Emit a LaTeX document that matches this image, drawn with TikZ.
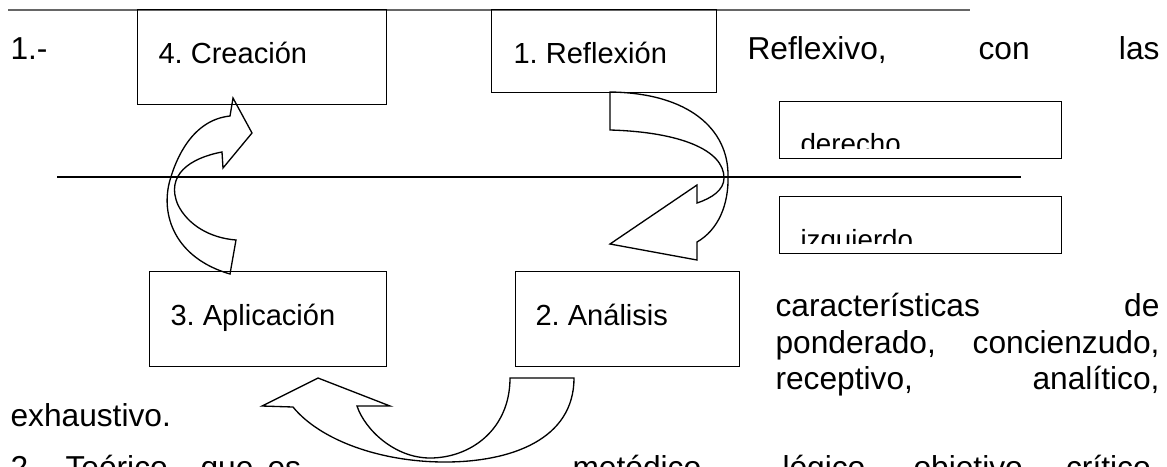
\documentclass[tikz,border=0pt]{standalone}
\usepackage{fontspec}
\setmainfont{Liberation Sans}
\frenchspacing
\newlength\unidad
\setlength\unidad{0.3785pt}
\tikzset{
    caja/.style={
           rectangle,
           draw=black,
           line width=0.5pt,
           inner sep=0pt,
           anchor=north west,
           },
    etiqueta/.style={anchor=base west, inner sep=0pt,
           font=\fontsize{11}{13}\selectfont},
    recorte/.style={anchor=base west, inner sep=0pt,
           font=\fontsize{10.5}{12}\selectfont},
    parrafo/.style={anchor=base west, inner sep=0pt,
           font=\fontsize{12}{14}\selectfont},
    derecha/.style={parrafo, anchor=base east},
    flecha/.style={draw=black, line width=0.5pt, line join=miter},
}

\begin{document}
\begin{tikzpicture}[x=\unidad, y=-\unidad]
 \useasboundingbox (0,0) rectangle (1167,466);

 % lineas del texto
 \draw[black!60, line width=0.5pt] (8,10) -- (970,10);
 \draw[line width=0.5pt] (57,177) -- (1021,177);

 % cuadros de las etapas
 \node[caja, minimum width=249\unidad, minimum height=95\unidad] (CREA) at (137,9) {};
 \node[caja, minimum width=225\unidad, minimum height=83\unidad] (REFL) at (491,9) {};
 \node[caja, minimum width=237\unidad, minimum height=95\unidad] (APLI) at (149,271) {};
 \node[caja, minimum width=224\unidad, minimum height=95\unidad] (ANAL) at (515,271) {};
 \node[caja, minimum width=282\unidad, minimum height=57\unidad] (DERE) at (779,101) {};
 \node[caja, minimum width=282\unidad, minimum height=57\unidad] (IZQU) at (779,196) {};

 \node[etiqueta] at ([shift={(21,54)}]CREA.north west) {4. Creación};
 \node[etiqueta] at ([shift={(22,54)}]REFL.north west) {1. Reflexión};
 \node[etiqueta] at ([shift={(21,54)}]APLI.north west) {3. Aplicación};
 \node[etiqueta] at ([shift={(20,54)}]ANAL.north west) {2. Análisis};

 \begin{scope}
  \clip (DERE.north west) rectangle ([shift={(0,-11)}]DERE.south east);
  \node[recorte] at ([shift={(21,52)}]DERE.north west) {derecho};
 \end{scope}
 \begin{scope}
  \clip (IZQU.north west) rectangle ([shift={(0,-11)}]IZQU.south east);
  \node[recorte] at ([shift={(21,53)}]IZQU.north west) {izquierdo};
 \end{scope}

 % flechas curvas
 \draw[flecha] (230,274) .. controls (175,258) and (160,215) .. (170,180)
   .. controls (176,159) and (192,120) .. (230,116)
   -- (233,98) -- (252,133) -- (223,168) -- (222,152)
   .. controls (190,158) and (165,175) .. (178,205)
   .. controls (188,225) and (210,238) .. (236,240) -- cycle;

 \draw[flecha] (610,92) .. controls (690,93) and (728,130) .. (728,175)
   .. controls (729,205) and (718,230) .. (697,242)
   -- (697,260) -- (610,244) -- (697,185) -- (697,203)
   .. controls (712,198) and (724,190) .. (724,178)
   .. controls (724,150) and (680,132) .. (610,130) -- cycle;

 \draw[flecha] (574,378) .. controls (574,440) and (510,462) .. (445,462)
   .. controls (380,462) and (320,440) .. (293,407)
   -- (262,406) -- (318,378) -- (390,406) -- (357,406)
   .. controls (365,430) and (395,458) .. (430,458)
   .. controls (470,458) and (510,430) .. (510,378) -- cycle;

 % texto alrededor
 \node[parrafo] (P1) at (10,59.5) {1.-};
 \node[parrafo] (P2) at (747,59.5) {Reflexivo,};
 \node[parrafo] (P3) at (978,59.5) {con};
 \node[derecha] (P4) at (1160,59.5) {las};
 \node[parrafo] (C1) at (775,316.7) {características};
 \node[derecha] (C2) at (1160,316.7) {de};
 \node[parrafo] (C3) at (775,353) {ponderado,};
 \node[derecha] (C4) at (1160,353) {concienzudo,};
 \node[parrafo] (C5) at (775,389.5) {receptivo,};
 \node[derecha] (C6) at (1160,389.5) {analítico,};
 \node[parrafo] (E1) at (10,426) {exhaustivo.};
 \node[parrafo] (T1) at (10,478) {2.-};
 \node[parrafo] (T2) at (65,478) {Teórico};
 \node[parrafo] (T3) at (200,478) {que};
 \node[parrafo] (T4) at (267,478) {es};
 \node[parrafo] (T5) at (572,478) {metódico,};
 \node[parrafo] (T6) at (782,478) {lógico,};
 \node[parrafo] (T7) at (913,478) {objetivo,};
 \node[derecha] (T8) at (1160,478) {crítico,};
\end{tikzpicture}
\end{document}
